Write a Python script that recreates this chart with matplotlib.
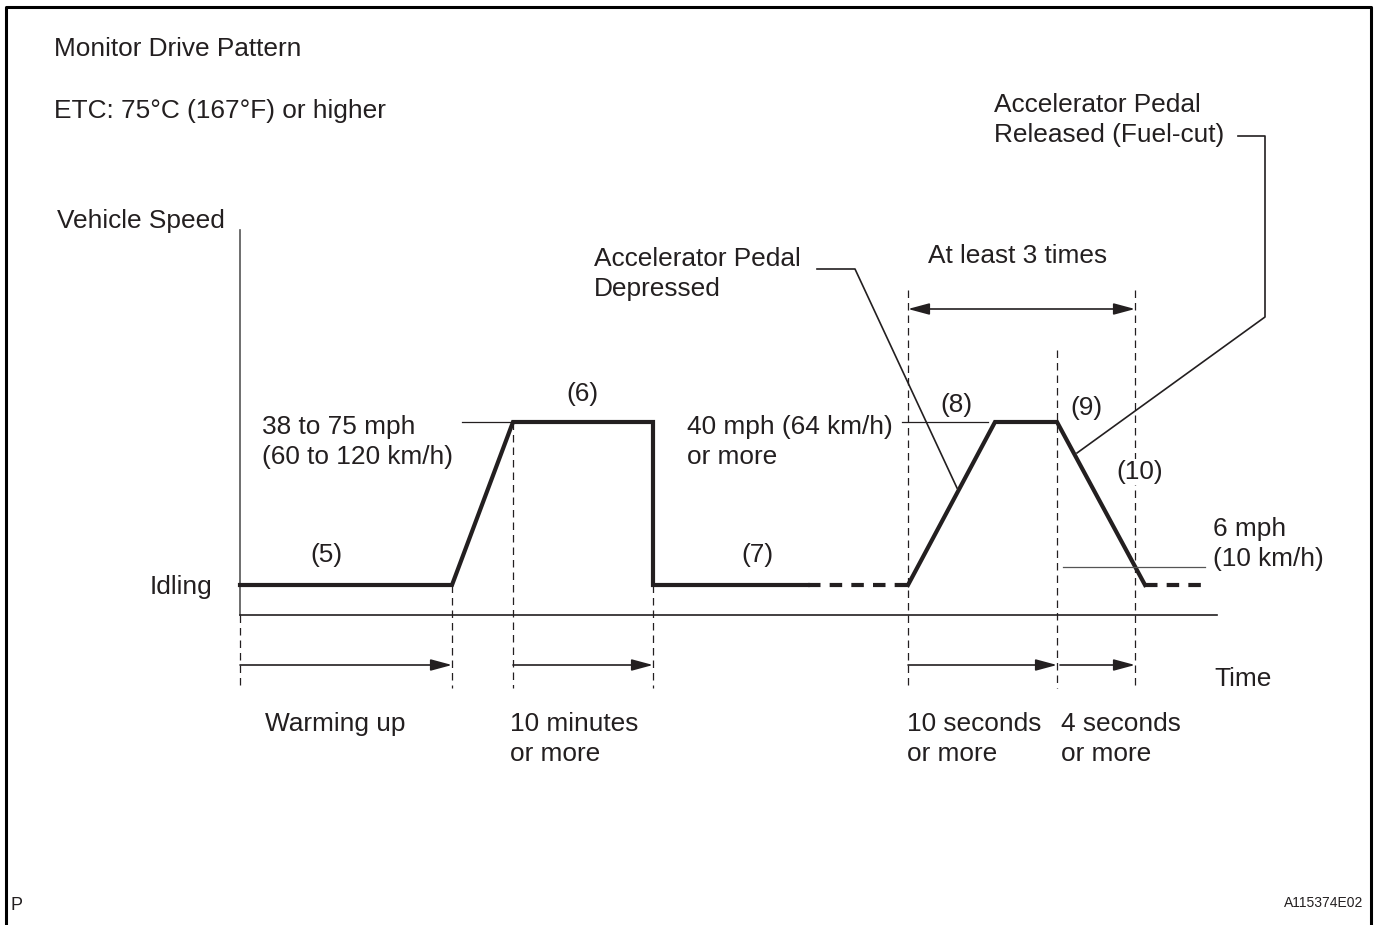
import matplotlib
matplotlib.use('Agg')
from matplotlib import pyplot as plt

plt.rcParams['font.family'] = ['Liberation Sans', 'DejaVu Sans']

# diagram coordinates (pixels, y grows downward)
idle_v = 585
high_v = 422
low_v = 567
base_v = 615

run1_t = [240, 452, 513, 653, 653, 808]
run1_v = [idle_v, idle_v, high_v, high_v, idle_v, idle_v]
run2_t = [908, 995, 1057, 1145]
run2_v = [idle_v, high_v, high_v, idle_v]
idle_dash = [(808, 908), (1145, 1205)]

# dashed guide lines: x, top
guides_x = [240, 452, 513, 653, 908, 1057, 1135]
guides_top = [615, idle_v, high_v, idle_v, 290, 350, 290]
guide_bottom = 688

# duration arrows at y=665
arrows = [(240, 452), (513, 653), (908, 1057), (1060, 1135)]
arrow_y = 665

col = '#231f20'
fs = 18.9

fig = plt.figure(figsize=(13.77, 9.25), dpi=100)
ax = fig.add_axes([0, 0, 1, 1])
ax.set_xlim(0, 1377)
ax.set_ylim(925, 0)
ax.axis('off')

# border
ax.plot([6, 6, 1371, 1371], [924, 7, 7, 924], color='black', lw=2.2)

# axes of the diagram
ax.plot([240, 240], [230, base_v], color='#555555', lw=1.2)
ax.plot([240, 1217], [base_v, base_v], color=col, lw=1.2)

# guides
for gx, gt in zip(guides_x, guides_top):
    ax.plot([gx, gx], [gt, guide_bottom], color=col, lw=0.9, ls=(0, (6, 4)))

# speed trace
ax.plot(run1_t, run1_v, color=col, lw=3, solid_joinstyle='miter')
ax.plot(run2_t, run2_v, color=col, lw=3, solid_joinstyle='miter')
for a, b in idle_dash:
    ax.plot([a, b], [idle_v, idle_v], color=col, lw=3, ls=(0, (3, 2.2)))

# reference leaders
ax.plot([462, 513], [high_v, high_v], color=col, lw=0.9)
ax.plot([902, 988], [high_v, high_v], color=col, lw=0.9)
ax.plot([1063, 1205], [low_v, low_v], color='#555555', lw=0.9)
ax.plot([817, 855, 957], [269, 269, 488], color=col, lw=1.2)
ax.plot([1238, 1265, 1265, 1077], [136, 136, 317, 453], color=col, lw=1.2)

# arrows
for a, b in arrows:
    ax.annotate('', xy=(b, arrow_y), xytext=(a, arrow_y),
                arrowprops=dict(arrowstyle='-|>,head_length=1.3,head_width=0.35',
                                color=col, lw=1.2, shrinkA=0, shrinkB=0))
ax.annotate('', xy=(1135, 309), xytext=(908, 309),
            arrowprops=dict(arrowstyle='<|-|>,head_length=1.3,head_width=0.35',
                            color=col, lw=1.2, shrinkA=0, shrinkB=0))

def txt(x, y, s, ha='left', **kw):
    ax.text(x, y + 2, s, ha=ha, va='center', fontsize=fs, color=col,
            linespacing=1.3, **kw)

txt(54, 47, 'Monitor Drive Pattern')
txt(54, 109, 'ETC: 75°C (167°F) or higher')
txt(57, 219, 'Vehicle Speed')
txt(212, 585, 'Idling', ha='right')
txt(326, 553, '(5)', ha='center')
txt(262, 440, '38 to 75 mph\n(60 to 120 km/h)')
txt(582, 392, '(6)', ha='center')
txt(757, 553, '(7)', ha='center')
txt(687, 440, '40 mph (64 km/h)\nor more')
txt(594, 272, 'Accelerator Pedal\nDepressed')
txt(1018, 254, 'At least 3 times', ha='center')
txt(956, 403, '(8)', ha='center')
txt(1086, 406, '(9)', ha='center')
txt(1140, 470, '(10)', ha='center',
    bbox=dict(facecolor='white', edgecolor='none', pad=1))
txt(1213, 542, '6 mph\n(10 km/h)')
txt(994, 118, 'Accelerator Pedal\nReleased (Fuel-cut)')
txt(1214, 677, 'Time')
txt(265, 722, 'Warming up')
txt(510, 737, '10 minutes\nor more')
txt(907, 737, '10 seconds\nor more')
txt(1061, 737, '4 seconds\nor more')
ax.text(10, 906, 'P', ha='left', va='center', fontsize=13, color=col)
ax.text(1363, 903, 'A115374E02', ha='right', va='center', fontsize=10, color=col)

fig.savefig('out.png', dpi=100)
